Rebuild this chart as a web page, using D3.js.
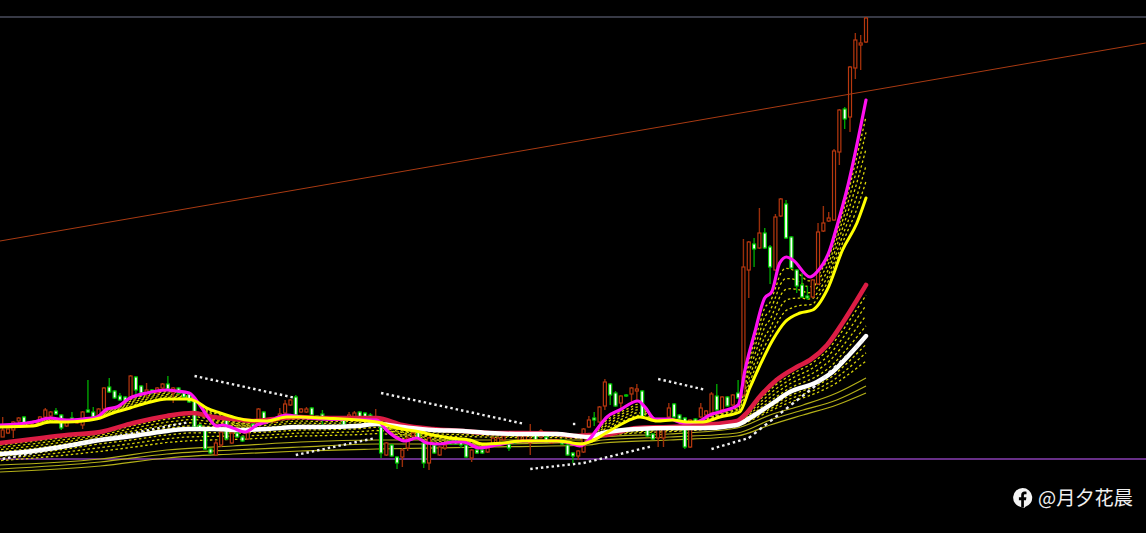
<!DOCTYPE html>
<html><head><meta charset="utf-8">
<script src="https://cdn.jsdelivr.net/npm/d3@7/dist/d3.min.js"></script>
<style>html,body{margin:0;padding:0;background:#000;overflow:hidden}svg{display:block}</style>
</head><body><svg id="c" width="1146" height="533"></svg>
<script>
const open=[63,67,70,79,83,75,75,79,83,84,89,85,74,82,77,75,90,88,83,91,113,109,104,103,103,123,114,107,110,107,112,116,107,112,107,106,100,75,71,51,45,55,80,57,67,63,61,76,78,88,81,78,81,87,95,103,88,88,92,84,86,81,82,80,80,81,83,88,87,85,80,73,45,55,43,43,52,64,68,57,37,55,45,52,59,60,58,55,42,50,50,48,55,55,60,56,59,59,59,57,68,63,63,57,58,60,55,47,44,48,73,82,78,94,116,107,97,105,106,109,109,72,66,62,62,83,96,85,82,53,81,83,85,87,104,90,103,95,107,105,230,256,252,267,253,230,284,296,263,230,215,204,203,216,269,279,280,348,391,383,432,455,458];
const close=[70,71,78,82,77,78,79,83,90,88,86,72,80,80,81,88,88,83,91,112,108,102,100,99,124,110,107,110,107,112,116,111,112,107,103,98,73,72,51,47,57,68,61,67,63,59,67,73,91,80,79,82,86,96,100,85,91,91,85,82,83,83,80,83,75,85,87,83,83,83,82,47,57,44,37,50,62,67,62,37,62,47,53,55,56,56,55,43,50,47,47,52,62,62,64,52,57,64,64,60,60,69,58,59,60,56,45,44,49,71,80,80,93,118,105,94,104,104,112,111,83,64,61,73,73,92,83,81,53,80,77,92,89,106,90,103,94,105,102,233,258,251,267,252,233,283,301,262,232,214,203,202,220,268,277,282,349,390,381,433,460,457,482];
const high=[83,71,79,83,84,79,80,84,92,89,92,86,81,88,82,89,120,93,92,113,122,110,107,104,125,124,115,117,111,113,117,124,113,113,108,107,101,76,72,52,60,69,81,68,68,64,68,77,92,89,82,83,92,100,101,105,92,93,93,85,90,84,83,84,81,88,89,89,88,87,91,74,58,56,44,52,64,68,69,58,63,56,54,57,60,61,59,56,51,51,51,53,63,63,65,57,60,65,65,76,69,71,64,60,61,61,56,48,50,72,84,88,94,121,117,109,105,106,113,116,110,73,67,74,74,97,97,86,83,81,82,97,90,108,116,104,104,106,120,261,259,262,292,272,255,286,302,300,264,231,227,214,221,277,294,288,351,391,393,434,467,465,483];
const low=[63,66,62,77,76,74,74,77,82,83,85,70,73,80,76,71,87,82,82,90,107,101,99,98,102,105,106,103,106,106,110,110,97,106,102,97,72,71,50,46,44,53,60,56,62,58,60,72,77,79,78,77,80,86,94,84,87,87,84,81,75,80,79,79,74,80,82,82,82,82,79,42,44,43,31,33,49,63,60,32,30,46,44,50,55,55,52,42,38,46,46,47,54,54,59,49,56,58,58,45,59,62,57,56,57,55,44,37,40,47,72,74,77,90,95,93,90,103,98,100,82,63,60,53,53,82,82,80,51,52,76,82,84,86,89,89,93,94,101,104,202,233,251,251,216,229,283,261,231,207,202,200,202,215,268,278,279,335,371,368,421,430,457];

const magentaBars=[-0.5,5.7,8.9,12,15,17.7,19.6,21.4,23.9,27,30.8,32.7,35,37,38.5,40.2,41.3,43.2,45.5,47.7,49.6,53.3,55.8,60,70.2,72,74,75.5,77.7,79.6,82,84.5,86.4,89.5,92.7,97.6,104,106.4,108.3,110,111.7,113.4,115.8,119.2,120.5,122.4,125.2,127.6,130.3,132.7,135.1,138,139.3,141.1,143,144.3,145.8,147.1,148.3,151.5,152.8,155.2,156.5,158.4,162];
const magentaVals=[75,78,82,80,81,83,91,93,102,107,110,109,107,95,83,74,75,72,68,75,78,85,83,81,80,70,62,59,62,57,56,58,58,52,55,59,59,57,54,60,72,83,90,99,93,81,81,77,78,85,89,95,130,167,202,208,237,243,240,223,228,250,273,310,400];
const yellowBars=[-0.5,5.7,8.9,12,15,18.3,20.7,23.9,27,30.8,34.6,36.5,38.3,40.8,43.2,45.8,49.6,53.3,55.8,60,70.2,72.7,75,78.3,80.7,84,87.7,90,93.8,97.6,104,106,108.3,110.6,112.6,115.8,119.6,122.8,125.8,128.4,131.4,134.6,138.3,140.2,141.7,144.5,146.8,149.6,152,154.7,157.6,160.3,162];
const yellowVals=[73,74,78,78,79,82,87,92,97,101,101,98,92,87,83,80,79,83,83,82,78,74,71,68,65,62,60,56,57,59,59,58,56,59,65,75,83,79,80,78,78,83,88,112,130,160,178,187,190,210,250,277,302];
const crimsonBars=[-0.5,5.7,12,18.3,24.5,30.8,35.7,39.5,43.2,47,52.6,55.8,60,70.2,75,80.7,86.4,91.4,97.6,104,107.7,110,112.6,119,125.2,131.4,137.8,139.6,142,145.2,149,151.5,154.7,157.6,160.3,162];
const crimsonVals=[57,61,65,68,77,84,87,83,81,79,82,83,82,82,75,71,69,67,67,66,64,65,65,72,73,75,79,87,103,120,133,140,155,177,200,215];
const whiteBars=[-0.5,5.7,12,18.3,24.5,29.5,34.6,39.5,44.5,49.6,55.8,60,66.5,70.2,75,80.7,86.4,91.4,97.6,104,107.7,110,112.6,119,125.2,131.4,137.8,140.2,144,147.7,152.8,155.7,159,162];
const whiteVals=[46,49,54,60,64,68,71,71,70,71,73,73,74,76,73,70,69,67,66,66,64,63,67,71,72,72,75,82,95,108,118,128,146,164];
const goldBars=[-0.5,18.3,30.8,43.2,55.8,70.2,91.4,110,112.6,125.2,137.8,144,150.2,156.5,162];
const goldA=[35,41,50,54,58,60,60,60,63,66,72,85,95,107,122];
const goldB=[31,38,46,50,53,56,56,58,60,63,67,80,90,100,114];
const goldC=[28,34,42,46,49,51,53,55,57,60,64,75,85,95,107];
const dottedTrends=[[0,41,35,78],[36,124,55,102],[55,45,70,62],[71,107,98,76],[107,76,108,76],[99,31,109,37],[109,37,122,54],[123,121,132,110],[133,51,140,62],[140,62,152,112],[152,112,162,162]];
const slopeBars=[-0.5,214.5], slopeVals=[259,457];
const levels=[483,41];
const watermark="@月夕花晨";

const svg=d3.select("#c");
const x=d3.scaleLinear().domain([0,162]).range([2.67,866]);
const y=d3.scaleLinear().domain([0,500]).range([500,0]);
svg.append("rect").attr("width",1146).attr("height",533).attr("fill","#000");
const clip=svg.append("g");

clip.selectAll(".lv").data(levels).join("line").attr("x1",0).attr("x2",1146)
 .attr("y1",d=>y(d)).attr("y2",d=>y(d))
 .attr("stroke",(d,i)=>i?"#8a3fb4":"#4a4c5c").attr("stroke-width",1.6);

const curve=d3.curveMonotoneX;
const mk=(b,v)=>d3.scaleLinear().domain(b).range(v);
const sM=mk(magentaBars,magentaVals),sY=mk(yellowBars,yellowVals),sC=mk(crimsonBars,crimsonVals),sW=mk(whiteBars,whiteVals),sG=mk(goldBars,goldA);
const grid=d3.range(0,163).map(i=>i);
grid.unshift(-0.5);
function hatch(a,b,fracs){
 fracs.forEach((f,k)=>{
  clip.append("path").datum(grid)
   .attr("d",d3.line().x(i=>x(i)).y(i=>y(a(i)*(1-f)+b(i)*f)).curve(curve))
   .attr("fill","none").attr("stroke","#d8d408").attr("stroke-width",1.3)
   .attr("stroke-dasharray","2.5,2.5").attr("stroke-dashoffset",k*2);
 });
}
hatch(sM,sY,[.17,.33,.5,.67,.83]);
hatch(sC,sW,[.2,.4,.6,.8]);
hatch(sW,sG,[.2,.4,.6]);

[goldA,goldB,goldC].forEach(v=>{
 clip.append("path").datum(d3.zip(goldBars,v))
  .attr("d",d3.line().x(d=>x(d[0])).y(d=>y(d[1])).curve(curve))
  .attr("fill","none").attr("stroke","#b4b018").attr("stroke-width",1.2);
});

const G="#00c800",GW="#00a400",R="#b8380f",RW="#9a2e0a";
const cg=clip.append("g");
grid.slice(1).forEach(i=>{
 const up=close[i]>open[i]||(close[i]===open[i]);
 cg.append("line").attr("x1",x(i)).attr("x2",x(i)).attr("y1",y(high[i])).attr("y2",y(low[i]))
  .attr("stroke",up?RW:GW).attr("stroke-width",1.4);
 const t=y(Math.max(open[i],close[i])),b=y(Math.min(open[i],close[i]));
 cg.append("rect").attr("x",x(i)-1.5).attr("width",3).attr("y",t).attr("height",Math.max(1,b-t))
  .attr("fill",up?"#000":"#fff").attr("stroke",up?R:G).attr("stroke-width",1.2);
});

clip.append("path").datum(d3.zip(slopeBars,slopeVals))
 .attr("d",d3.line().x(d=>x(d[0])).y(d=>y(d[1])))
 .attr("fill","none").attr("stroke","#a83a12").attr("stroke-width",1);

[[crimsonBars,crimsonVals,"#dc1c44",4.6],[whiteBars,whiteVals,"#fff",4.4],[magentaBars,magentaVals,"#ff10f0",3.2],[yellowBars,yellowVals,"#ffff00",3]].forEach(([b,v,c,w])=>{
 clip.append("path").datum(d3.zip(b,v))
  .attr("d",d3.line().x(d=>x(d[0])).y(d=>y(d[1])).curve(curve))
  .attr("fill","none").attr("stroke",c).attr("stroke-width",w).attr("stroke-linejoin","round").attr("stroke-linecap","round");
});

dottedTrends.forEach(([i0,v0,i1,v1])=>{
 clip.append("path").datum([[i0,v0],[i1,v1]])
  .attr("d",d3.line().x(d=>x(d[0])).y(d=>y(d[1])))
  .attr("pathLength",i1-i0).attr("fill","none").attr("stroke","#f0f0f0").attr("stroke-width",2.4)
  .attr("stroke-dasharray","0.45,0.55");
});

const wm=svg.append("g");
wm.append("path").attr("fill","#f4f4f4").attr("transform","translate(1013,488)")
 .attr("d","M9.6,0 A9.6,9.6 0 0 1 12,18.9 L11.4,20 L7.8,19 A9.6,9.6 0 0 1 9.6,0 Z");
wm.append("path").attr("fill","#000").attr("transform","translate(1013,488)")
 .attr("d","M8.2,19.5 V12.2 H5.9 V9.2 H8.2 V7 C8.2,4.8 9.5,3.6 11.5,3.6 C12.4,3.6 13.2,3.7 13.5,3.8 V6.2 H12.1 C11,6.2 10.9,6.8 10.9,7.5 V9.2 H13.4 L13,12.2 H10.9 V19.5 Z");
wm.append("text").attr("x",1038).attr("y",504.5).attr("fill","#f0f0f0")
 .attr("font-family","'Noto Sans CJK SC','Noto Sans',sans-serif").attr("font-size",19.2).text(watermark);
</script></body></html>
